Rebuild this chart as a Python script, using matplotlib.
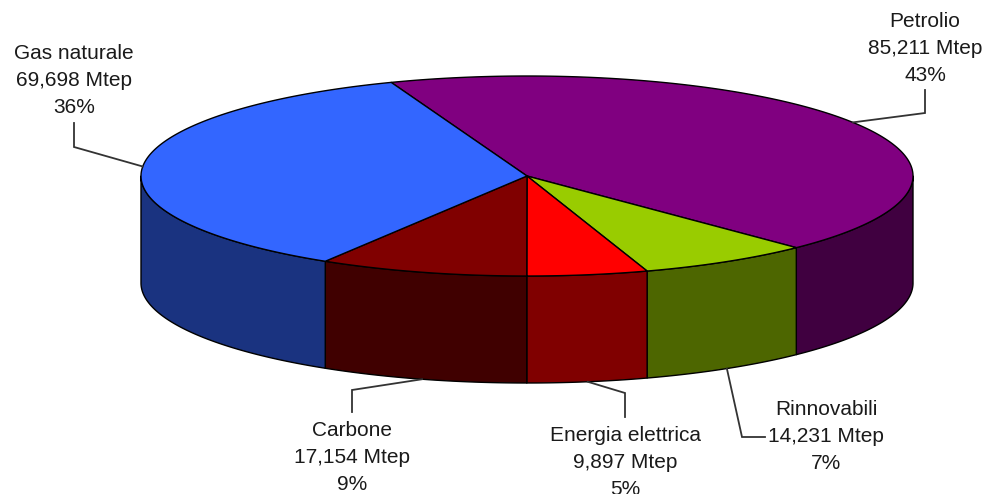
import numpy as np
import matplotlib
matplotlib.use("Agg")
import matplotlib.pyplot as plt
from matplotlib.patches import Polygon

# Final energy consumption by source (Mtep)
sources = ["Petrolio", "Rinnovabili", "Energia elettrica", "Carbone", "Gas naturale"]
values = [85.211, 14.231, 9.897, 17.154, 69.698]
value_labels = ["85,211 Mtep", "14,231 Mtep", "9,897 Mtep", "17,154 Mtep", "69,698 Mtep"]
pct_labels = ["43%", "7%", "5%", "9%", "36%"]
top_colors = ["#800080", "#99CC00", "#FF0000", "#800000", "#3366FF"]
side_colors = ["#400040", "#4D6600", "#800000", "#400000", "#1A3380"]

# Geometry of the tilted pie (pixel space)
cx, cy = 527.0, 176.0
ra, rb = 386.0, 100.0
depth = 107.0
start_deg = 110.6

# Label layout: text centre x, first baseline y, leader elbow and leader end
label_x = [925, 826, 625, 352, 74]
label_y = [27, 415, 441, 436, 59]
elbows = [(925, 113), (742, 437), (625, 393), (352, 390), (74, 147)]
leader_ends = [(925, 90), (765, 437), (625, 417), (352, 412), (74, 123)]
line_gap = 27

fig = plt.figure(figsize=(9.87, 4.94), dpi=100)
ax = fig.add_axes([0, 0, 1, 1])
ax.set_xlim(0, 987)
ax.set_ylim(494, 0)
ax.axis("off")

total = sum(values)
spans = [v / total * 360.0 for v in values]
bounds = []
a = start_deg
for s in spans:
    bounds.append((a, a - s))
    a -= s


def ell(t_deg, dy=0.0):
    t = np.radians(t_deg)
    return cx + ra * np.cos(t), cy - rb * np.sin(t) + dy


# side walls (front half only)
for (a1, a2), col in zip(bounds, side_colors):
    hi, lo = a1, a2
    # bring the interval into a window overlapping [-180, 0]
    segs = []
    for shift in (0, -360, 360):
        h, l = hi + shift, lo + shift
        s_hi = min(h, 0.0)
        s_lo = max(l, -180.0)
        if s_hi > s_lo:
            segs.append((s_hi, s_lo))
    for s_hi, s_lo in segs:
        tt = np.linspace(s_hi, s_lo, 120)
        xs, ys = ell(tt)
        xb, yb = ell(tt[::-1], depth)
        pts = np.column_stack([np.concatenate([xs, xb]), np.concatenate([ys, yb])])
        ax.add_patch(Polygon(pts, closed=True, facecolor=col, edgecolor="black",
                             linewidth=1.0, joinstyle="round", zorder=1))

# top faces
for (a1, a2), col in zip(bounds, top_colors):
    tt = np.linspace(a1, a2, 300)
    xs, ys = ell(tt)
    pts = np.column_stack([np.concatenate([[cx], xs]), np.concatenate([[cy], ys])])
    ax.add_patch(Polygon(pts, closed=True, facecolor=col, edgecolor="black",
                         linewidth=1.0, joinstyle="round", zorder=2))

# leaders and labels
for i, (a1, a2) in enumerate(bounds):
    mid = (a1 + a2) / 2.0
    if np.sin(np.radians(mid)) < 0:
        px, py = ell(mid, depth)
    else:
        px, py = ell(mid)
    ex, ey = elbows[i]
    lx, ly = leader_ends[i]
    ax.plot([px, ex, lx], [py, ey, ly], color="#333333", linewidth=1.3,
            solid_joinstyle="miter", zorder=3)
    lines = [sources[i], value_labels[i], pct_labels[i]]
    for k, s in enumerate(lines):
        ax.text(label_x[i], label_y[i] + k * line_gap, s, ha="center", va="baseline",
                fontsize=15, family="Liberation Sans", color="#1a1a1a", zorder=4)

fig.savefig("out.png", dpi=100)
